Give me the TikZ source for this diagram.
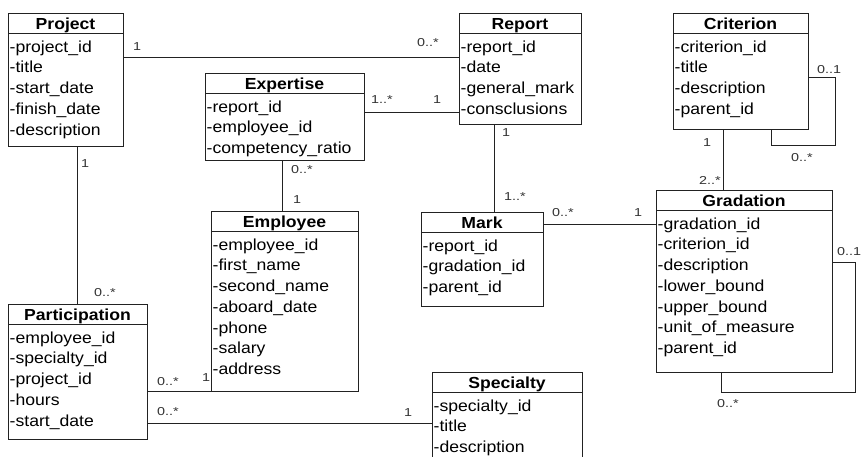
\documentclass[tikz,border=0pt]{standalone}
\usepackage{fontspec}
\setmainfont{Liberation Sans}[FakeStretch=1.1]
\newfontfamily\lblfont{Liberation Sans}[FakeStretch=1.25]
\definecolor{linec}{HTML}{222222}
\definecolor{lblc}{HTML}{333333}
\tikzset{
  umlrect/.style={draw=linec, line width=1pt, fill=white, anchor=north west, inner sep=0pt, outer sep=0pt},
  umltitle/.style={font=\fontsize{16}{16}\selectfont\bfseries, anchor=base, inner sep=0pt},
  umlattr/.style={font=\fontsize{16}{16}\selectfont, anchor=base west, inner sep=0pt},
  mult/.style={font=\lblfont\fontsize{11.5}{11.5}\selectfont, text=lblc, inner sep=0pt},
  conn/.style={draw=linec, line width=1pt},
}
% #1 name, #2 left, #3 top, #4 right, #5 bottom, #6 title, #7 attributes
\newcommand\umlbox[7]{%
  \pgfmathsetmacro\bw{#4-#2}%
  \pgfmathsetmacro\bh{#5-#3}%
  \node[umlrect, minimum width=\bw pt, minimum height=\bh pt] (#1) at (#2,#3) {};
  \draw[conn] ([yshift=-20.5pt]#1.north west) -- ([yshift=-20.5pt]#1.north east);
  \node[umltitle] (#1-t) at ([yshift=-16pt]#1.north) {#6};
  \foreach \a [count=\i] in {#7} {
    \node[umlattr] (#1-\i) at ([xshift=1.5pt, yshift={-39pt-(\i-1)*20.75pt}]#1.north west) {\a};
  }
}
\begin{document}
\begin{tikzpicture}[x=1pt, y=-1pt]
\useasboundingbox (0,0) rectangle (864,456);
\clip (0,0) rectangle (864,456);
\fill[white] (0,0) rectangle (864,456);

% helper coordinates for connector routes
\coordinate (h1) at (0,57);
\coordinate (h2) at (0,112);
\coordinate (h3) at (0,77);
\coordinate (h4) at (0,224);
\coordinate (h5) at (0,262);
\coordinate (h6) at (0,391);
\coordinate (h7) at (0,423);
\coordinate (v1) at (494,0);
\coordinate (v2) at (282,0);
\coordinate (v3) at (77,0);
\coordinate (v4) at (723,0);
\coordinate (v5) at (771,0);
\coordinate (v6) at (721,0);
\coordinate (cl) at (835,145);
\coordinate (gl) at (855,392);

% connectors
\draw[conn] (h1 -| 123,0) -- (h1 -| 459,0);
\draw[conn] (v3 |- 0,146) -- (v3 |- 0,304);
\draw[conn] (h2 -| 364,0) -- (h2 -| 459,0);
\draw[conn] (v1 |- 0,124) -- (v1 |- 0,212);
\draw[conn] (v2 |- 0,160) -- (v2 |- 0,211);
\draw[conn] (v4 |- 0,129) -- (v4 |- 0,190);
\draw[conn] (h3 -| 808,0) -| (cl) -| (v5 |- 0,129);
\draw[conn] (h4 -| 543,0) -- (h4 -| 656,0);
\draw[conn] (h5 -| 832,0) -| (gl) -| (v6 |- 0,372);
\draw[conn] (h6 -| 147,0) -- (h6 -| 211,0);
\draw[conn] (h7 -| 147,0) -- (h7 -| 432,0);

% boxes
\umlbox{project}{8}{13}{123}{146}{Project}{-project\_id,-title,-start\_date,-finish\_date,-description}
\umlbox{report}{459}{13}{581}{124}{Report}{-report\_id,-date,-general\_mark,-consclusions}
\umlbox{expertise}{205}{73}{364}{160}{Expertise}{-report\_id,-employee\_id,-competency\_ratio}
\umlbox{criterion}{673}{13}{808}{129}{Criterion}{-criterion\_id,-title,-description,-parent\_id}
\umlbox{employee}{211}{211}{358}{391}{Employee}{-employee\_id,-first\_name,-second\_name,-aboard\_date,-phone,-salary,-address}
\umlbox{mark}{421}{212}{543}{306}{Mark}{-report\_id,-gradation\_id,-parent\_id}
\umlbox{gradation}{656}{190}{832}{372}{Gradation}{-gradation\_id,-criterion\_id,-description,-lower\_bound,-upper\_bound,-unit\_of\_measure,-parent\_id}
\umlbox{participation}{8}{304}{147}{439}{Participation}{-employee\_id,-specialty\_id,-project\_id,-hours,-start\_date}
\umlbox{specialty}{432}{372}{582}{480}{Specialty}{-specialty\_id,-title,-description}

% multiplicities
\node[mult] (m1) at (137,47) {1};
\node[mult] (m2) at (428,43) {0..*};
\node[mult] (m3) at (382,100) {1..*};
\node[mult] (m4) at (437,100) {1};
\node[mult] (m5) at (506,133) {1};
\node[mult] (m6) at (515,197) {1..*};
\node[mult] (m7) at (302,170) {0..*};
\node[mult] (m8) at (297,200) {1};
\node[mult] (m9) at (85,164) {1};
\node[mult] (m10) at (105,293) {0..*};
\node[mult] (m11) at (707,143) {1};
\node[mult] (m12) at (710,180) {2..*};
\node[mult] (m13) at (829,70) {0..1};
\node[mult] (m14) at (802,158) {0..*};
\node[mult] (m15) at (563,213) {0..*};
\node[mult] (m16) at (638,213) {1};
\node[mult] (m17) at (849,252) {0..1};
\node[mult] (m18) at (728,404) {0..*};
\node[mult] (m19) at (168,382) {0..*};
\node[mult] (m20) at (206,378) {1};
\node[mult] (m21) at (168,412) {0..*};
\node[mult] (m22) at (408,413) {1};
\end{tikzpicture}
\end{document}
